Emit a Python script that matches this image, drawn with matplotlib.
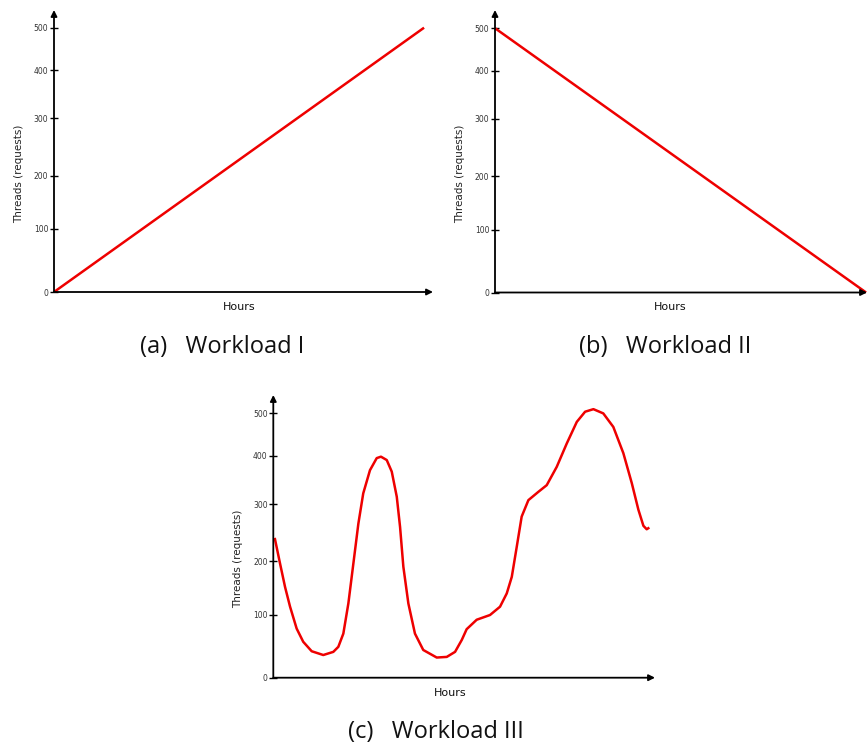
import numpy as np
import matplotlib.pyplot as plt

# workload data
hours_a = [0, 24]
threads_a = [0, 500]

hours_b = [0, 24]
threads_b = [500, 0]

hours_c = [0.09, 0.43, 0.75, 1.07, 1.49, 1.91, 2.45, 3.19, 3.83, 4.15, 4.47,
           4.79, 5.11, 5.43, 5.74, 6.17, 6.60, 6.87, 7.24, 7.56, 7.88, 8.09,
           8.30, 8.62, 9.04, 9.57, 10.43, 11.07, 11.60, 12.03, 12.34, 12.98,
           13.83, 14.47, 14.90, 15.22, 15.54, 15.85, 16.28, 16.91, 17.45, 18.09,
           18.73, 19.37, 19.90, 20.43, 21.06, 21.70, 22.34, 22.88, 23.30, 23.62,
           23.83, 24.0]
threads_c = [241, 196, 152, 115, 78, 57, 42, 36, 41, 49, 70,
             121, 196, 266, 322, 370, 395, 398, 391, 367, 315, 260,
             190, 121, 70, 44, 32, 33, 41, 60, 77, 92,
             99.5, 115, 140, 171, 226, 278, 308, 325, 339, 377,
             429, 480, 504, 510, 500, 468, 406, 343, 290, 262,
             256, 259]

tick_vals = [0, 100, 200, 300, 400, 500]
captions = ['(a)   Workload I', '(b)   Workload II', '(c)   Workload III']

# the drawing has uneven tick spacing, so use a piecewise scale
SC_V = np.array([0, 100, 200, 300, 400, 500], float)
SC_H = np.array([0, 63, 116.3, 173.7, 222, 264.3])


def fwd(v):
    v = np.asarray(v, float)
    out = np.interp(v, SC_V, SC_H)
    out = np.where(v > 500, SC_H[-1] + (v - 500) * (SC_H[-1] - SC_H[-2]) / 100, out)
    out = np.where(v < 0, v * SC_H[1] / 100, out)
    return out


def inv(h):
    h = np.asarray(h, float)
    out = np.interp(h, SC_H, SC_V)
    out = np.where(h > SC_H[-1], 500 + (h - SC_H[-1]) * 100 / (SC_H[-1] - SC_H[-2]), out)
    out = np.where(h < 0, h * 100 / SC_H[1], out)
    return out


W, H = 867, 746
fig = plt.figure(figsize=(W / 100, H / 100), dpi=100)


def box(left, bottom, right, top):
    return [left / W, 1 - bottom / H, (right - left) / W, (bottom - top) / H]


def panel(rect, x, y, xmax, hours_x):
    ax = fig.add_axes(rect)
    ax.set_yscale('function', functions=(fwd, inv))
    hpx = rect[3] * H
    ax.plot(x, y, color='#ee0000', lw=1.8, clip_on=False, solid_capstyle='butt')
    ax.set_xlim(0, xmax)
    ax.set_ylim(0, float(inv(hpx)))
    for s in ax.spines.values():
        s.set_visible(False)
    for tip in [(0, 1), (1, 0)]:
        ax.annotate('', xy=tip, xytext=(0, 0), xycoords='axes fraction',
                    arrowprops=dict(arrowstyle='-|>', color='black', lw=1.3,
                                    mutation_scale=9, shrinkA=0, shrinkB=0),
                    annotation_clip=False)
    ax.set_xticks([])
    ax.set_yticks(tick_vals)
    ax.set_yticklabels([str(t) for t in tick_vals])
    ax.yaxis.set_minor_locator(plt.NullLocator())
    ax.tick_params(axis='y', direction='inout', length=6, width=1, pad=1,
                   labelsize=5.5, labelcolor='#333333')
    ax.set_ylabel('Threads (requests)', fontsize=7.5, color='#222222')
    ax.yaxis.set_label_coords(-30 / (rect[2] * W), 0.42)
    ax.set_xlabel('Hours', fontsize=8, color='#111111')
    ax.xaxis.set_label_coords(hours_x, -10 / hpx)
    ax.patch.set_alpha(0)
    return ax


panel(box(54, 292, 433, 10), hours_a, threads_a, 24.58, 0.488)
panel(box(495, 292.5, 867, 10), hours_b, threads_b, 24.06, 0.472)
panel(box(273.3, 677.7, 655, 395), hours_c, threads_c, 24.36, 0.463)

cap_pos = [(222, 347), (665, 347), (436, 732)]
for (cx, cy), c in zip(cap_pos, captions):
    fig.text(cx / W, 1 - cy / H, c, ha='center', va='center', fontsize=17,
             family='Open Sans', color='#111111')

fig.savefig('out.png', dpi=100)
